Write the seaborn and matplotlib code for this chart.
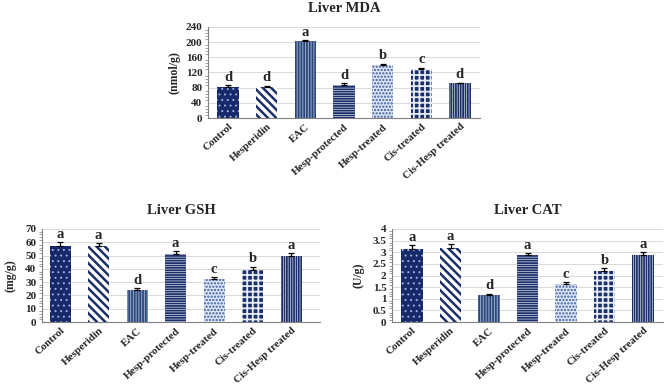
import numpy as np
import pandas as pd
import matplotlib
matplotlib.use('Agg')
import matplotlib.pyplot as plt
from matplotlib.ticker import AutoMinorLocator
import seaborn as sns

groups = ['Control', 'Hesperidin', 'EAC', 'Hesp-protected', 'Hesp-treated',
          'Cis-treated', 'Cis-Hesp treated']

mda = [82, 82, 203, 88, 140, 130, 91]
mda_err = [4, 3, 3, 4, 3, 3, 2]
mda_let = ['d', 'd', 'a', 'd', 'b', 'c', 'd']

gsh = [57, 57, 24, 51, 32, 39, 49.5]
gsh_err = [3, 2.5, 1.5, 2.5, 1.5, 2.5, 2.5]
gsh_let = ['a', 'a', 'd', 'a', 'c', 'b', 'a']

cat = [3.15, 3.18, 1.15, 2.88, 1.62, 2.2, 2.88]
cat_err = [0.15, 0.17, 0.07, 0.08, 0.08, 0.12, 0.12]
cat_let = ['a', 'a', 'd', 'a', 'c', 'b', 'a']

# bar styling: face colour, hatch, hatch colour, hatch width
faces = ['#16296a', 'white', '#8ea2c4', 'white', '#dfe8f6', '#1b2f6b', 'white']
hatches = ['...', '\\' * 4, '|' * 6, '-' * 7, '.....', '+' * 3, '|' * 7]
hcols = ['#9fb0d8', '#1b2f6b', '#2b4678', '#1b2f6b', '#3a5aa0', '#e6ecf8', '#1b2f6b']
hwidth = [0.7, 1.8, 1.2, 1.3, 1.1, 1.3, 1.3]

sns.set_style('white')
plt.rcParams['font.family'] = ['Liberation Serif', 'DejaVu Serif']
plt.rcParams['font.weight'] = 'bold'
plt.rcParams['hatch.linewidth'] = 1.3

fig = plt.figure(figsize=(6.69, 3.87), dpi=100)
W, H = 669, 387


def panel(rect, vals, errs, lets, title, ylabel, ymax, ystep, fmt, xlim, lab_off):
    x0, y0, x1, y1 = rect
    ax = fig.add_axes([x0 / W, 1 - y1 / H, (x1 - x0) / W, (y1 - y0) / H])
    df = pd.DataFrame({'group': groups, 'value': vals})
    sns.barplot(data=df, x='group', y='value', ax=ax, width=0.55,
                color='white', edgecolor='none', errorbar=None)
    for p, fc, h, hc, hw in zip(ax.patches, faces, hatches, hcols, hwidth):
        p.set_facecolor(fc)
        p.set_hatch(h)
        p.set_edgecolor(hc)
        p.set_linewidth(0)
        if hasattr(p, 'set_hatch_linewidth'):
            p.set_hatch_linewidth(hw)
    ax.errorbar(range(len(vals)), vals, yerr=[np.zeros(len(vals)), errs],
                fmt='none', ecolor='black', elinewidth=0.9, capsize=2.5, capthick=0.9)
    for i, (v, e, l) in enumerate(zip(vals, errs, lets)):
        ax.text(i, v + e + ymax * 0.015, l, ha='center', va='bottom',
                fontsize=10.5, fontweight='bold')
    ax.set_ylim(0, ymax)
    ax.set_xlim(*xlim)
    ticks = np.arange(0, ymax + ystep / 2, ystep)
    ax.set_yticks(ticks)
    ax.yaxis.set_minor_locator(AutoMinorLocator(5))
    ax.set_yticklabels([fmt(t) for t in ticks], fontsize=8, fontweight='bold')
    ax.set_xticks(range(len(groups)))
    ax.set_xticklabels(groups, rotation=42, ha='right', rotation_mode='anchor',
                       fontsize=7.8, fontweight='bold')
    ax.yaxis.grid(True, which='major', color='#d9d9d9', linewidth=0.7)
    ax.set_axisbelow(True)
    for s in ['top', 'right']:
        ax.spines[s].set_visible(False)
    ax.spines['left'].set_color('#808080')
    ax.spines['bottom'].set_color('#808080')
    ax.tick_params(axis='y', which='major', length=3, color='#808080', pad=1)
    ax.tick_params(axis='y', which='minor', length=2, color='#909090', left=True)
    ax.tick_params(axis='x', length=0, pad=3)
    ax.set_xlabel('')
    ax.set_ylabel(ylabel, fontsize=8.5, fontweight='bold', labelpad=lab_off)
    ax.set_title(title, fontsize=10.5, fontweight='bold', pad=11)
    return ax


panel((208, 27, 480, 118), mda, mda_err, mda_let, 'Liver MDA', '(nmol/g)',
      240, 40, lambda t: f'{int(t)}', (-0.52, 6.52), 4)
panel((42, 229, 320, 322), gsh, gsh_err, gsh_let, 'Liver GSH', '(mg/g)',
      70, 10, lambda t: f'{int(t)}', (-0.47, 6.75), 6)
panel((392, 229, 663, 322), cat, cat_err, cat_let, 'Liver CAT', '(U/g)',
      4, 0.5, lambda t: f'{t:g}', (-0.52, 6.52), 6)

fig.savefig('out.png', dpi=100)
